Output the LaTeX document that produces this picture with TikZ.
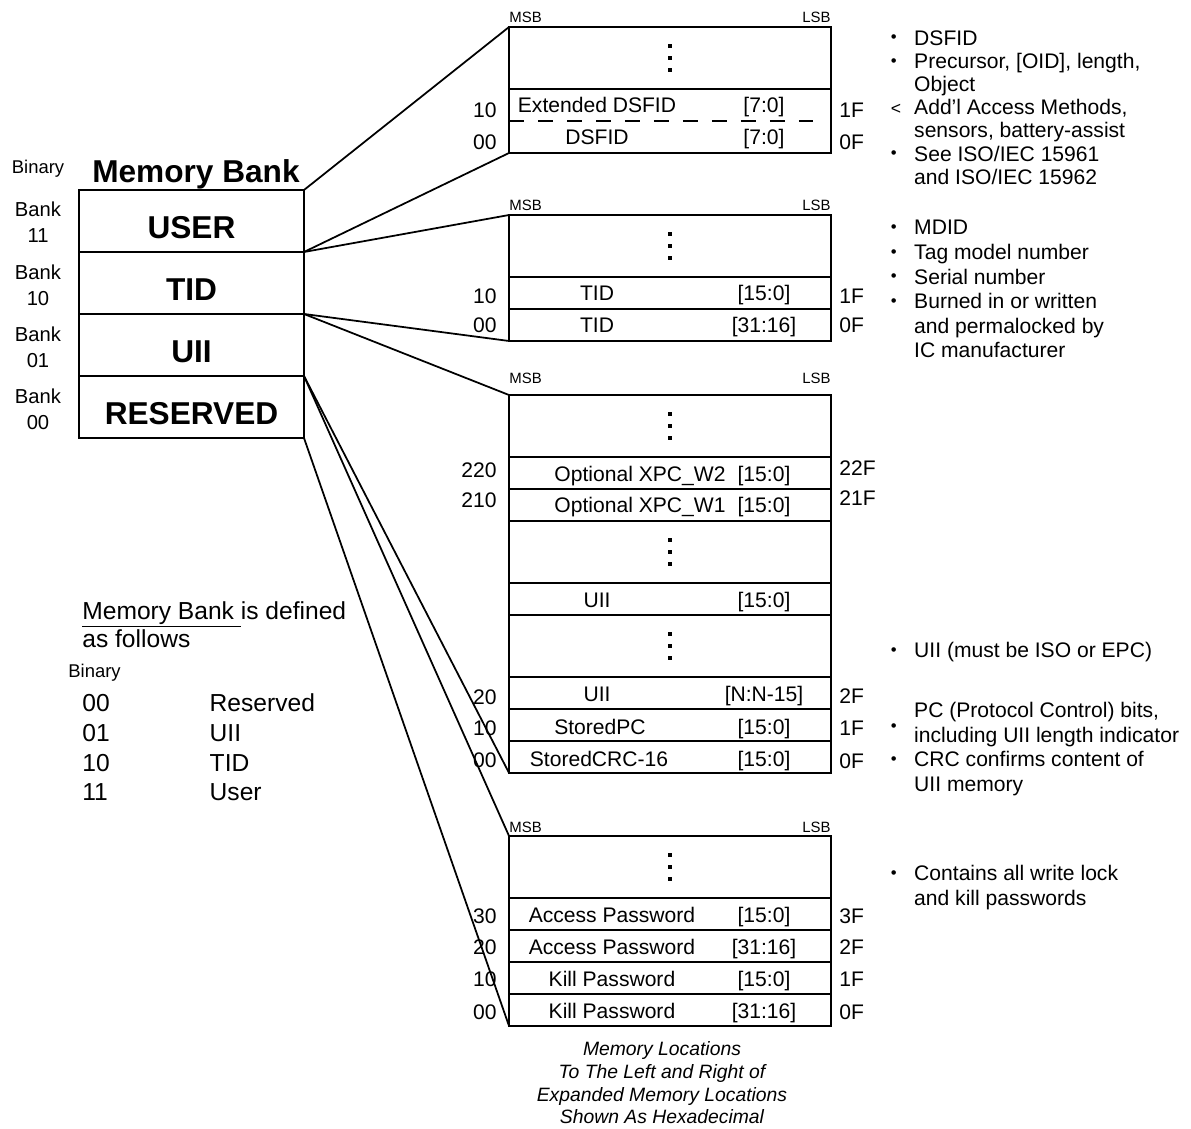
\documentclass[tikz,border=0pt]{standalone}
\usepackage{fontspec}
\setmainfont{Liberation Sans}
\usetikzlibrary{positioning}
\tikzset{bank/.style = {draw, line width=1.2pt, outer sep=0pt, minimum width=4.5cm, minimum height=1.24cm, inner sep=0pt, text height=20pt, text depth=0pt, font=\fontsize{18}{20}\selectfont\bfseries}}
\tikzset{gap/.style = {draw, line width=1pt, outer sep=0pt, minimum width=6.44cm, minimum height=1.24cm, inner sep=0pt}}
\tikzset{slot/.style = {draw, line width=1pt, outer sep=0pt, minimum width=6.44cm, minimum height=0.64cm, inner sep=0pt}}
\tikzset{fld/.style = {inner sep=0pt, text height=8.6pt, text depth=0pt, font=\fontsize{12}{14}\selectfont}}
\tikzset{msb/.style = {inner sep=0pt, anchor=base west, font=\fontsize{8.5}{10}\selectfont}}
\tikzset{lsb/.style = {inner sep=0pt, anchor=base east, font=\fontsize{8.5}{10}\selectfont}}
\tikzset{banklbl/.style = {align=center, inner sep=0pt, font=\fontsize{11.5}{14.7}\selectfont}}
\tikzset{note/.style = {align=left, inner sep=0pt, anchor=north west, font=\fontsize{12}{13.2}\selectfont}}
\tikzset{link/.style = {line width=1pt}}
\newcommand{\nb}{\makebox[13.3pt][l]{\raisebox{1.2pt}{\fontsize{9.5}{9}\selectfont\textbullet}}}
\newcommand{\nrb}{\makebox[13.3pt][l]{\raisebox{6.3pt}{\fontsize{9.5}{9}\selectfont\textbullet}}}
\newcommand{\nlt}{\makebox[13.3pt][l]{\fontsize{10}{10}\selectfont<}}
\newcommand{\nsp}{\makebox[13.3pt]{}}

\begin{document}
\begin{tikzpicture}[x=0.02cm, y=-0.02cm]
  \useasboundingbox (0,0) rectangle (1191,1129);

  % memory bank column
  \node [inner sep=0pt, anchor=base, font=\fontsize{10.5}{12}\selectfont] (binary) at (38,173) {Binary};
  \node [inner sep=0pt, anchor=base, font=\fontsize{18}{20}\selectfont\bfseries] (title) at (196,182) {Memory Bank};
  \node [bank] (user) at (191.5,221) {USER};
  \node [bank, below=0pt of user] (tid) {TID};
  \node [bank, below=0pt of tid] (uii) {UII};
  \node [bank, below=0pt of uii] (res) {RESERVED};
  \node [banklbl] (bk11) at (38,222) {Bank\\11};
  \node [banklbl] (bk10) at (38,285) {Bank\\10};
  \node [banklbl] (bk01) at (38,347) {Bank\\01};
  \node [banklbl] (bk00) at (38,409) {Bank\\00};

  % user block
  \node [gap] (u0) at (670,58) {};
  \node [slot, minimum height=1.28cm, below=0pt of u0] (u1) {};
  \draw [line width=1pt, dash pattern=on 8.5pt off 8pt] (u1.west) -- ([xshift=-0.36cm]u1.east);
  \node [msb] (u-msb) at ([yshift=0.1cm]u0.north west) {MSB};
  \node [lsb] (u-lsb) at ([yshift=0.1cm]u0.north east) {LSB};
  \node [fld] (nm-u1a) at (597,105) {Extended DSFID};
  \node [fld] (bt-u1a) at (764,105) {[7:0]};
  \node [fld, anchor=east] (lo-u1a) at (497,110) {10};
  \node [fld, anchor=west] (hi-u1a) at (839,110) {1F};
  \node [fld] (nm-u1b) at (597,137) {DSFID};
  \node [fld] (bt-u1b) at (764,137) {[7:0]};
  \node [fld, anchor=east] (lo-u1b) at (497,142) {00};
  \node [fld, anchor=west] (hi-u1b) at (839,142) {0F};

  % tid block
  \node [gap] (t0) at (670,246) {};
  \node [slot, below=0pt of t0] (t1) {};
  \node [slot, below=0pt of t1] (t2) {};
  \node [msb] (t-msb) at ([yshift=0.1cm]t0.north west) {MSB};
  \node [lsb] (t-lsb) at ([yshift=0.1cm]t0.north east) {LSB};
  \node [fld] (nm-t1) at (597,293) {TID};
  \node [fld] (bt-t1) at (764,293) {[15:0]};
  \node [fld, anchor=east] (lo-t1) at (497,296) {10};
  \node [fld, anchor=west] (hi-t1) at (839,296) {1F};
  \node [fld] (nm-t2) at (597,325) {TID};
  \node [fld] (bt-t2) at (764,325) {[31:16]};
  \node [fld, anchor=east] (lo-t2) at (497,325) {00};
  \node [fld, anchor=west] (hi-t2) at (839,325) {0F};

  % uii block
  \node [gap] (i0) at (670,426) {};
  \node [slot, below=0pt of i0] (i1) {};
  \node [slot, below=0pt of i1] (i2) {};
  \node [gap, below=0pt of i2] (i3) {};
  \node [slot, below=0pt of i3] (i4) {};
  \node [gap, below=0pt of i4] (i5) {};
  \node [slot, below=0pt of i5] (i6) {};
  \node [slot, below=0pt of i6] (i7) {};
  \node [slot, below=0pt of i7] (i8) {};
  \node [msb] (i-msb) at ([yshift=0.24cm]i0.north west) {MSB};
  \node [lsb] (i-lsb) at ([yshift=0.24cm]i0.north east) {LSB};
  \node [fld] (nm-i1) at (640,474) {Optional XPC\_W2};
  \node [fld] (bt-i1) at (764,474) {[15:0]};
  \node [fld, anchor=east] (lo-i1) at (497,470) {220};
  \node [fld, anchor=west] (hi-i1) at (839,468) {22F};
  \node [fld] (nm-i2) at (640,505) {Optional XPC\_W1};
  \node [fld] (bt-i2) at (764,505) {[15:0]};
  \node [fld, anchor=east] (lo-i2) at (497,500) {210};
  \node [fld, anchor=west] (hi-i2) at (839,498) {21F};
  \node [fld] (nm-i4) at (597,600) {UII};
  \node [fld] (bt-i4) at (764,600) {[15:0]};
  \node [fld] (nm-i6) at (597,694) {UII};
  \node [fld] (bt-i6) at (764,694) {[N:N-15]};
  \node [fld, anchor=east] (lo-i6) at (497,697) {20};
  \node [fld, anchor=west] (hi-i6) at (839,696) {2F};
  \node [fld] (nm-i7) at (600,727) {StoredPC};
  \node [fld] (bt-i7) at (764,727) {[15:0]};
  \node [fld, anchor=east] (lo-i7) at (497,728) {10};
  \node [fld, anchor=west] (hi-i7) at (839,728) {1F};
  \node [fld] (nm-i8) at (599,759) {StoredCRC-16};
  \node [fld] (bt-i8) at (764,759) {[15:0]};
  \node [fld, anchor=east] (lo-i8) at (497,760) {00};
  \node [fld, anchor=west] (hi-i8) at (839,761) {0F};

  % reserved block
  \node [gap] (r0) at (670,867) {};
  \node [slot, below=0pt of r0] (r1) {};
  \node [slot, below=0pt of r1] (r2) {};
  \node [slot, below=0pt of r2] (r3) {};
  \node [slot, below=0pt of r3] (r4) {};
  \node [msb] (r-msb) at ([yshift=0.08cm]r0.north west) {MSB};
  \node [lsb] (r-lsb) at ([yshift=0.08cm]r0.north east) {LSB};
  \node [fld] (nm-r1) at (612,915) {Access Password};
  \node [fld] (bt-r1) at (764,915) {[15:0]};
  \node [fld, anchor=east] (lo-r1) at (497,916) {30};
  \node [fld, anchor=west] (hi-r1) at (839,916) {3F};
  \node [fld] (nm-r2) at (612,947) {Access Password};
  \node [fld] (bt-r2) at (764,947) {[31:16]};
  \node [fld, anchor=east] (lo-r2) at (497,947) {20};
  \node [fld, anchor=west] (hi-r2) at (839,947) {2F};
  \node [fld] (nm-r3) at (612,979) {Kill Password};
  \node [fld] (bt-r3) at (764,979) {[15:0]};
  \node [fld, anchor=east] (lo-r3) at (497,979) {10};
  \node [fld, anchor=west] (hi-r3) at (839,979) {1F};
  \node [fld] (nm-r4) at (612,1011) {Kill Password};
  \node [fld] (bt-r4) at (764,1011) {[31:16]};
  \node [fld, anchor=east] (lo-r4) at (497,1012) {00};
  \node [fld, anchor=west] (hi-r4) at (839,1012) {0F};

  \foreach \g in {u0,t0,i0,i3,i5,r0}
    \foreach \k in {0.24,0,-0.24}
      \fill ([yshift=\k cm]\g.center) ++(-2,-2) rectangle ++(4,4);

  % expansion lines
  \draw [link] (user.north east) -- (u0.north west);
  \draw [link] (user.south east) -- (u1.south west);
  \draw [link] (tid.north east) -- (t0.north west);
  \draw [link] (tid.south east) -- (t2.south west);
  \draw [link] (uii.north east) -- (i0.north west);
  \draw [link] (uii.south east) -- (i8.south west);
  \draw [link] (res.north east) -- (r0.north west);
  \draw [link] (res.south east) -- (r4.south west);

  % notes
  \node [note] (n-user) at (890.5,30) {\nb DSFID\\ \nb Precursor, [OID], length,\\ \nsp Object\\ \nlt Add’l Access Methods,\\ \nsp sensors, battery-assist\\ \nb See ISO/IEC 15961\\ \nsp and ISO/IEC 15962};
  \node [note, font=\fontsize{12}{14}\selectfont] (n-tid) at (890.5,220) {\nb MDID\\ \nb Tag model number\\ \nb Serial number\\ \nb Burned in or written\\ \nsp and permalocked by\\ \nsp IC manufacturer};
  \node [note] (n-uii) at (890.5,642) {\nb UII (must be ISO or EPC)};
  \node [note, font=\fontsize{12}{14}\selectfont] (n-pc) at (890.5,702) {\nsp PC (Protocol Control) bits,\\ \nrb including UII length indicator\\ \nb CRC confirms content of\\ \nsp UII memory};
  \node [note, font=\fontsize{12}{14}\selectfont] (n-res) at (890.5,865) {\nb Contains all write lock\\ \nsp and kill passwords};

  % legend
  \node [inner sep=0pt, anchor=north west, align=left, font=\fontsize{14}{15.9}\selectfont] (legend) at (82,601) {\underline{Memory Bank\ }is defined\\as follows};
  \node [inner sep=0pt, anchor=base west, font=\fontsize{10.5}{12}\selectfont] (legbin) at (68,677) {Binary};
  \node [inner sep=0pt, anchor=north west, font=\fontsize{14}{17}\selectfont] (legtab) at (82,690) {\begin{tabular}{@{}p{72.5pt}@{}l@{}}00 & Reserved\\ 01 & UII\\ 10 & TID\\ 11 & User\end{tabular}};

  \node [inner sep=0pt, anchor=north, align=center, font=\fontsize{11}{13}\selectfont\itshape] (caption) at (662,1041) {Memory Locations\\To The Left and Right of\\Expanded Memory Locations\\Shown As Hexadecimal};
\end{tikzpicture}
\end{document}
